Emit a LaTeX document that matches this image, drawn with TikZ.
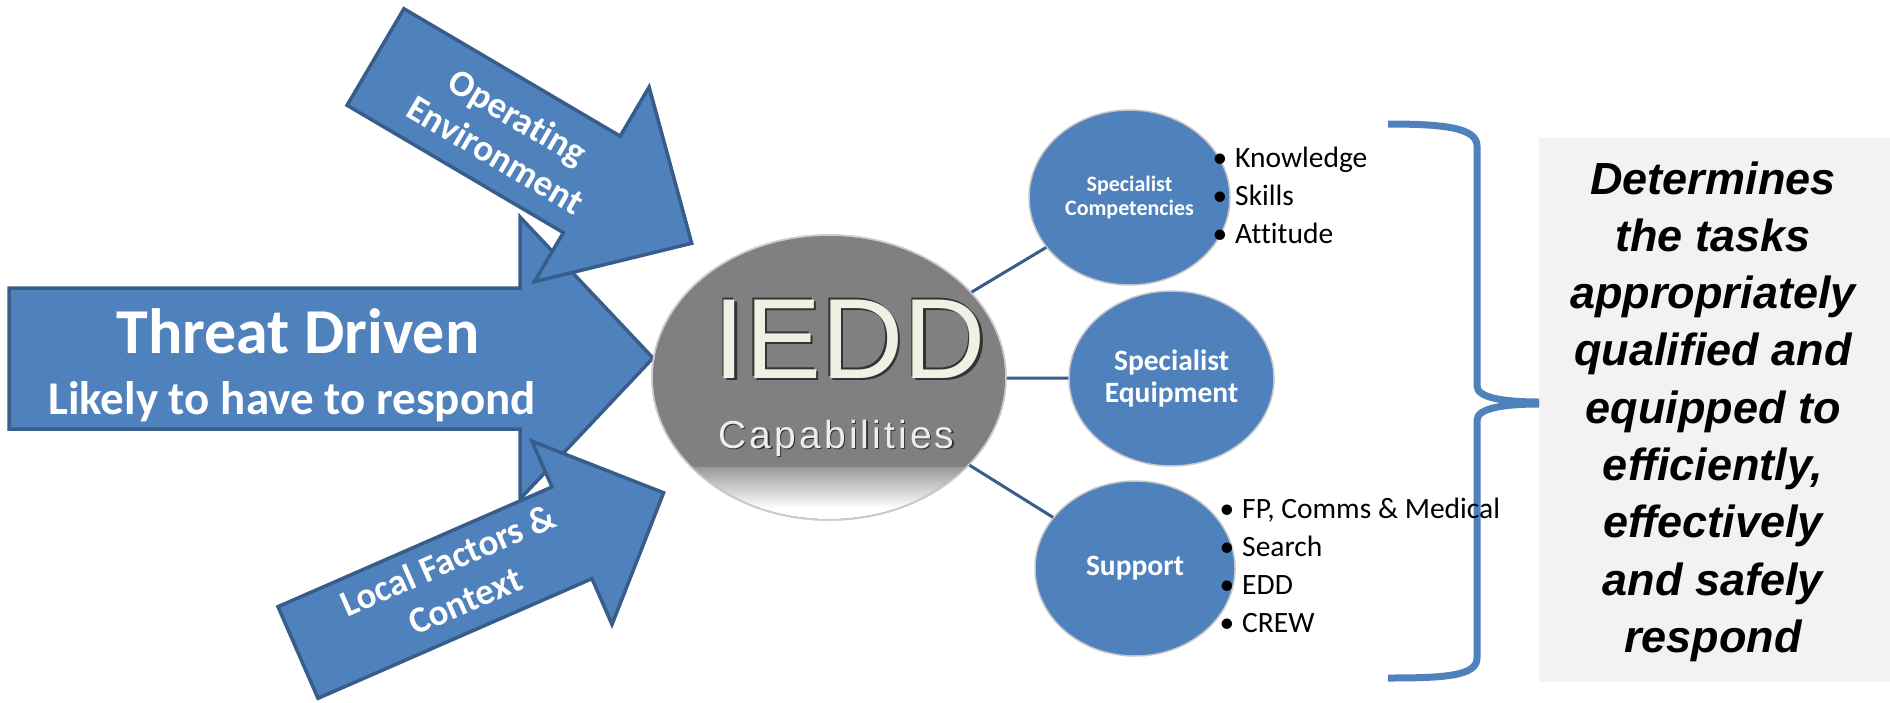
\documentclass[tikz,border=0pt]{standalone}
\usepackage{fontspec}
\setmainfont{Carlito}[Ligatures=NoCommon]
\newfontfamily\arialf{Liberation Sans}
\newfontfamily\capf[LetterSpace=8]{Liberation Sans}
\usetikzlibrary{shapes.geometric}
\definecolor{blu}{HTML}{4F81BD}
\definecolor{bluedge}{HTML}{385D8A}
\definecolor{boxg}{HTML}{F2F2F2}
\definecolor{iegray}{HTML}{808080}
\definecolor{cream}{HTML}{F1F0E4}
\begin{document}
\begin{tikzpicture}[x=1pt,y=-1pt,
  bigarrow/.style={fill=blu, draw=bluedge, line width=3.5pt, line join=miter},
  arrowtxt/.style={text=white, font=\bfseries\fontsize{37}{44}\selectfont, align=center, inner sep=0pt},
  circ/.style={ellipse, fill=blu, draw=black!22, line width=1.5pt, inner sep=0pt, text=white, align=center},
  conn/.style={draw=bluedge, line width=3pt},
  bultxt/.style={anchor=base west, font=\fontsize{29.5}{35}\selectfont, inner sep=0pt},
  buldot/.style={anchor=base, font=\fontsize{29.5}{35}\selectfont, inner sep=0pt},
  bigtxt/.style={anchor=base, inner sep=0pt, font=\arialf\fontsize{114}{120}\selectfont},
  captxt/.style={anchor=base, inner sep=0pt, font=\capf\fontsize{39}{44}\selectfont},
  sidetxt/.style={anchor=base, inner sep=0pt, font=\arialf\bfseries\itshape\fontsize{45}{50}\selectfont}
]
\useasboundingbox (0,0) rectangle (1890,702);
\fill[white] (0,0) rectangle (1890,702);

% main arrow
\draw[bigarrow] (9,288) -- (520,288) -- (520,217) -- (653,358) -- (520,499) -- (520,429) -- (9,429) -- cycle;
\node[anchor=base, text=white, inner sep=0pt, font=\bfseries\fontsize{64}{70}\selectfont] (td) at (298,353) {Threat Driven};
\node[anchor=base, text=white, inner sep=0pt, font=\bfseries\fontsize{47}{52}\selectfont] (lk) at (292,414) {Likely to have to respond};

% operating environment arrow
\begin{scope}[shift={(375.5,57)}, rotate=-30.5]
\draw[bigarrow] (0,-56) -- (251,-56) -- (251,-113) -- (367,0) -- (251,113) -- (251,56) -- (0,56) -- cycle;
\node[arrowtxt, rotate=-30.5] (oe) at (153,1) {Operating\\Environment};
\end{scope}

% local factors arrow
\begin{scope}[shift={(298,652.5)}, rotate=23.6]
\draw[bigarrow] (0,-50) -- (299,-50) -- (299,-100) -- (399,0) -- (299,100) -- (299,50) -- (0,50) -- cycle;
\node[arrowtxt, rotate=23.6] (lf) at (174,-3) {Local Factors \&\\Context};
\end{scope}

% central ellipse
\node[ellipse, minimum width=354pt, minimum height=285pt, inner sep=0pt, fill=iegray, draw=black!20, line width=1.5pt] (ie) at (829,377.5) {};
\begin{scope}
\clip (829,377.5) ellipse [x radius=176, y radius=141.5];
\shade[top color=iegray!80!white, bottom color=white] (640,467) rectangle (1010,508);
\fill[white] (640,508) rectangle (1010,525);
\end{scope}
\draw[black!20, line width=1.5pt] (829,377.5) ellipse [x radius=177, y radius=142.5];

% IEDD embossed
\node[bigtxt, text=black!80] at (852.2,380.2) {IEDD};
\node[bigtxt, text=black!80] at (848.4,376.4) {IEDD};
\node[bigtxt, text=cream] (iedd) at (850,378) {IEDD};
\node[captxt, text=black!80] at (837.8,449.3) {Capabilities};
\node[captxt, text=black!7] (cap) at (836.5,448) {Capabilities};

% satellite circles
\node[circ, minimum width=201pt, minimum height=175pt, font=\bfseries\fontsize{22}{23.5}\selectfont] (c1) at (1129.5,197.5) {Specialist\\Competencies};
\node[circ, minimum width=205pt, minimum height=175pt, font=\bfseries\fontsize{29.5}{32}\selectfont] (c2) at (1171.5,378.5) {Specialist\\Equipment};
\node[circ, minimum width=200pt, minimum height=175pt, font=\bfseries\fontsize{29.5}{32}\selectfont] (c3) at (1135,568.5) {Support};

\draw[conn] (ie) -- (c1);
\draw[conn] (ie) -- (c2);
\draw[conn] (ie) -- (c3);

% bracket and box
\fill[boxg] (1539,138) rectangle (1890,682);
\draw[blu, line width=7pt, line cap=butt]
  (1388,124) .. controls (1445,124) and (1477,128) .. (1477,146) -- (1477,386)
  .. controls (1477,398) and (1505,402) .. (1539,402);
\draw[blu, line width=7pt, line cap=butt]
  (1539,404) .. controls (1505,404) and (1477,408) .. (1477,420) -- (1477,658)
  .. controls (1477,676) and (1445,678) .. (1388,678);

% bullets
\foreach \t [count=\i] in {Knowledge, Skills, Attitude} {
  \node[buldot] (kb\i) at (1220,{167+38*(\i-1)}) {•};
  \node[bultxt] (kt\i) at (1235,{167+38*(\i-1)}) {\t};
}
\foreach \t [count=\i] in {FP{,} Comms \& Medical, Search, EDD, CREW} {
  \node[buldot] (sb\i) at (1227,{518+38.3*(\i-1)}) {•};
  \node[bultxt] (st\i) at (1242,{518+38.3*(\i-1)}) {\t};
}

% side text
\foreach \t [count=\i] in {Determines, the tasks, appropriately, qualified and, equipped to, efficiently{,}, effectively, and safely, respond}
  \node[sidetxt] (d\i) at (1713,{194+57.3*(\i-1)}) {\t};
\end{tikzpicture}
\end{document}
